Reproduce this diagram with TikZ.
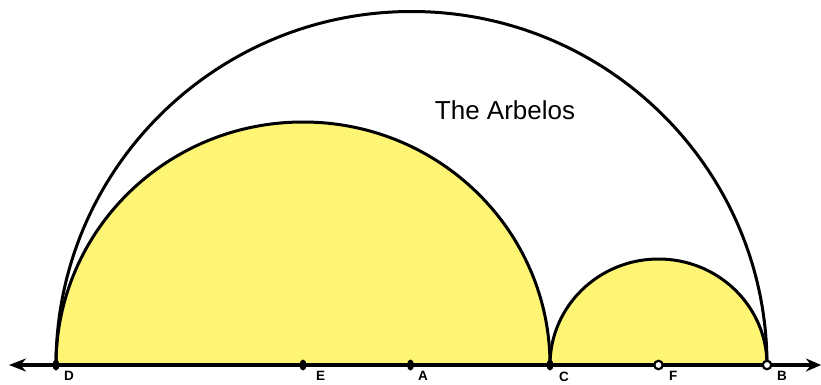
\documentclass[tikz,border=0pt]{standalone}
\usepackage{fontspec}
\setmainfont{Liberation Sans}
\usepackage{tikz}
\usetikzlibrary{arrows.meta, positioning, calc, shapes.geometric}
\definecolor{arbfill}{HTML}{FFF574}
\definecolor{arbline}{HTML}{000000}

\begin{document}
\begin{tikzpicture}[
  x=1pt, y=1pt,
  rim/.style={draw=arbline, line width=3pt},
  filldot/.style={ellipse, fill=arbline, inner sep=0pt, minimum width=7pt, minimum height=11pt},
  opendot/.style={circle, draw=arbline, fill=white, line width=2.2pt, inner sep=0pt, minimum size=8.5pt},
  lbl/.style={font=\fontsize{13.5}{13.5}\selectfont\bfseries, anchor=north west, inner sep=0pt},
  axis/.style={{Stealth[length=17pt, width=13pt]}-{Stealth[length=15pt, width=13pt]}, line width=4pt},
]
  \useasboundingbox (0,0) rectangle (821,384);

  % Points on the line
  \coordinate (lend) at (9,19);
  \coordinate (rend) at (821,19);
  \coordinate (D) at (56,19);
  \coordinate (E) at (303,19);
  \coordinate (A) at (410.5,19);
  \coordinate (C) at (550,19);
  \coordinate (F) at (658.5,19);
  \coordinate (B) at (767,19);

  % Shaded semicircles
  \fill[arbfill] (D) arc[start angle=180, end angle=0, x radius=247, y radius=243] -- cycle;
  \fill[arbfill] (C) arc[start angle=180, end angle=0, x radius=108.5, y radius=106] -- cycle;

  % Arcs
  \draw[rim] (B) arc[start angle=0, end angle=180, x radius=355.5, y radius=353.5];
  \draw[rim] (D) arc[start angle=180, end angle=0, x radius=247, y radius=243];
  \draw[rim] (C) arc[start angle=180, end angle=0, x radius=108.5, y radius=106];

  % Line
  \draw[axis] (lend) -- (rend);

  % Dots
  \node[filldot] (d) at (D) {};
  \node[filldot] (e) at (E) {};
  \node[filldot] (a) at (A) {};
  \node[filldot] (c) at (C) {};
  \node[opendot] (f) at (F) {};
  \node[opendot] (b) at (B) {};

  % Labels
  \node[lbl] at ($(D)+(8,-6.5)$) {D};
  \node[lbl] at ($(E)+(13,-6.5)$) {E};
  \node[lbl] at ($(A)+(7.5,-6.5)$) {A};
  \node[lbl] at ($(C)+(9,-6.5)$) {C};
  \node[lbl] at ($(F)+(10.5,-6.5)$) {F};
  \node[lbl] at ($(B)+(10,-6.5)$) {B};

  \node[font=\fontsize{26}{26}\selectfont] (title) at (505,274) {The Arbelos};
\end{tikzpicture}
\end{document}
